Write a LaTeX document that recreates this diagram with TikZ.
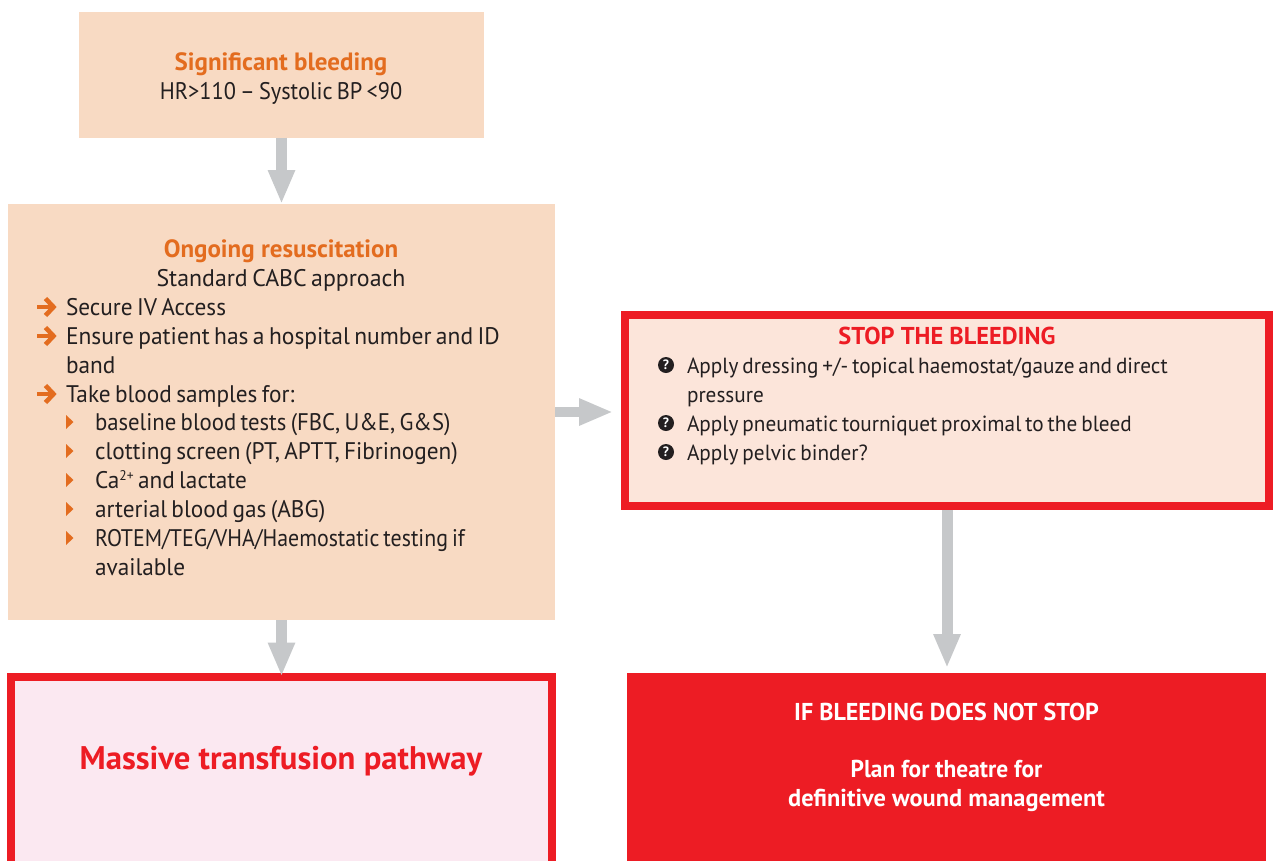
\documentclass[tikz,border=0pt]{standalone}
\usepackage{fontspec}
\setmainfont{PT Sans}[UprightFeatures={FakeStretch=0.97,WordSpace=0.7}]
\usetikzlibrary{arrows.meta}
\definecolor{peach}{HTML}{F8DAC3}
\definecolor{paleorange}{HTML}{FCE5DA}
\definecolor{palepink}{HTML}{FBE8F1}
\definecolor{alertred}{HTML}{ED1C24}
\definecolor{accent}{HTML}{E36C1F}
\definecolor{flowgrey}{HTML}{C6C8CA}
\definecolor{ink}{HTML}{231F20}
\tikzset{
  x=1pt,y=-1pt,
  flat/.style={inner sep=0,outer sep=0,fill=peach},
  framed/.style={inner sep=0,draw=alertred,line width=8pt,outer sep=4pt},
  solid red/.style={inner sep=0,outer sep=0,fill=alertred},
  body/.style={anchor=base west,inner sep=0,outer sep=0,text=ink,align=left,font=\fontsize{24}{29}\selectfont},
  small body/.style={body,font=\fontsize{21.9}{29}\selectfont},
  centred/.style={anchor=base,inner sep=0,outer sep=0,text=ink,align=center,font=\fontsize{24}{29}\selectfont},
  orangehead/.style={centred,text=accent,font=\fontsize{25}{29}\bfseries\selectfont},
  redhead/.style={centred,text=alertred,font=\fontsize{24.4}{29}\bfseries\selectfont},
  whitehead/.style={centred,text=white,font=\fontsize{24.4}{29}\bfseries\selectfont},
  flow/.style={draw=flowgrey,line width=11pt,-{Triangle[length=34pt,width=25pt]}},
  qmark/.style={circle,fill=ink,text=white,inner sep=0,minimum size=16pt,font=\fontsize{13.5}{13.5}\bfseries\selectfont},
}
\newcommand{\arrowbul}[2]{%
  \draw[accent,line width=4.4pt] (#1+37,#2) -- (#1+53,#2);
  \draw[accent,line width=4.6pt,line join=miter] (#1+45.5,#2-8.5) -- (#1+53.5,#2) -- (#1+45.5,#2+8.5);}
\newcommand{\tribul}[2]{\fill[accent] (#1,#2-7) -- (#1+7.5,#2) -- (#1,#2+7) -- cycle;}
\begin{document}
\begin{tikzpicture}
\clip (0,0) rectangle (1274,860);
\fill[white] (0,0) rectangle (1274,860);
% boxes
\node[flat,minimum width=405pt,minimum height=125.5pt] (signif) at (281.5,74.75) {};
\node[flat,minimum width=547pt,minimum height=416pt] (ongoing) at (281.5,412) {};
\node[framed,fill=paleorange,minimum width=644pt,minimum height=191pt] (stop) at (947,410.5) {};
\node[framed,fill=palepink,minimum width=541.5pt,minimum height=260pt] (massive) at (281.25,807) {};
\node[solid red,minimum width=639pt,minimum height=240pt] (plan) at (946.5,793) {};
% connectors
\draw[flow] (signif.south) -- (ongoing.north);
\draw[flow,shorten >=-3.5pt] (ongoing.south) -- (ongoing.south |- massive.north);
\draw[flow,line width=10pt,shorten >=8pt] (ongoing.east) -- (ongoing.east -| stop.west);
\draw[flow,shorten >=5pt] (stop.south) -- (stop.south |- plan.north);
% box 1
\node[orangehead] (t1) at (281,70) {Significant bleeding};
\node[centred] (t2) at (281,99) {\scalebox{0.96}[1]{HR>110 – Systolic BP <90}};
% box 2
\node[orangehead] (t3) at (281,257) {Ongoing resuscitation};
\node[centred] (t4) at (281,286) {\scalebox{1.025}[1]{Standard CABC approach}};
\arrowbul{0}{307}
\node[body] (t5) at (66,315) {Secure IV Access};
\arrowbul{0}{336}
\node[body] (t6) at (66,373) {\scalebox{1.01}[1]{Ensure patient has a hospital number and ID}\\band};
\arrowbul{0}{394}
\node[body] (t7) at (66,402) {Take blood samples for:};
\tribul{66}{422}
\node[body] (t8) at (95,430) {\scalebox{0.978}[1]{baseline blood tests (FBC, U\&E, G\&S)}};
\tribul{66}{451}
\node[body] (t9) at (95,459) {clotting screen (PT, APTT, Fibrinogen)};
\tribul{66}{480}
\node[body] (t10) at (95,488) {Ca\raisebox{8pt}{\fontsize{14}{14}\selectfont 2+} and lactate};
\tribul{66}{509}
\node[body] (t11) at (95,517) {arterial blood gas (ABG)};
\tribul{66}{538}
\node[body] (t12) at (95,575) {\scalebox{0.94}[1]{ROTEM/TEG/VHA/Haemostatic testing if}\\available};
% stop box
\node[redhead] (t13) at (947,344) {STOP THE BLEEDING};
\node[qmark] (q1) at (666,365) {?};
\node[small body] (t14) at (687,402) {Apply dressing +/- topical haemostat/gauze and direct\\pressure};
\node[qmark] (q2) at (666,423) {?};
\node[small body] (t15) at (687,431) {Apply pneumatic tourniquet proximal to the bleed};
\node[qmark] (q3) at (666,452) {?};
\node[small body] (t16) at (687,460) {Apply pelvic binder?};
% massive
\node[redhead,font=\fontsize{32.7}{36}\bfseries\selectfont] (t17) at (281,769) {Massive transfusion pathway};
% plan
\node[whitehead] (t18) at (946.5,720) {\scalebox{0.985}[1]{IF BLEEDING DOES NOT STOP}};
\node[whitehead] (t19) at (946.5,806) {\scalebox{0.96}[1]{Plan for theatre for}\\definitive wound management};
\end{tikzpicture}
\end{document}
